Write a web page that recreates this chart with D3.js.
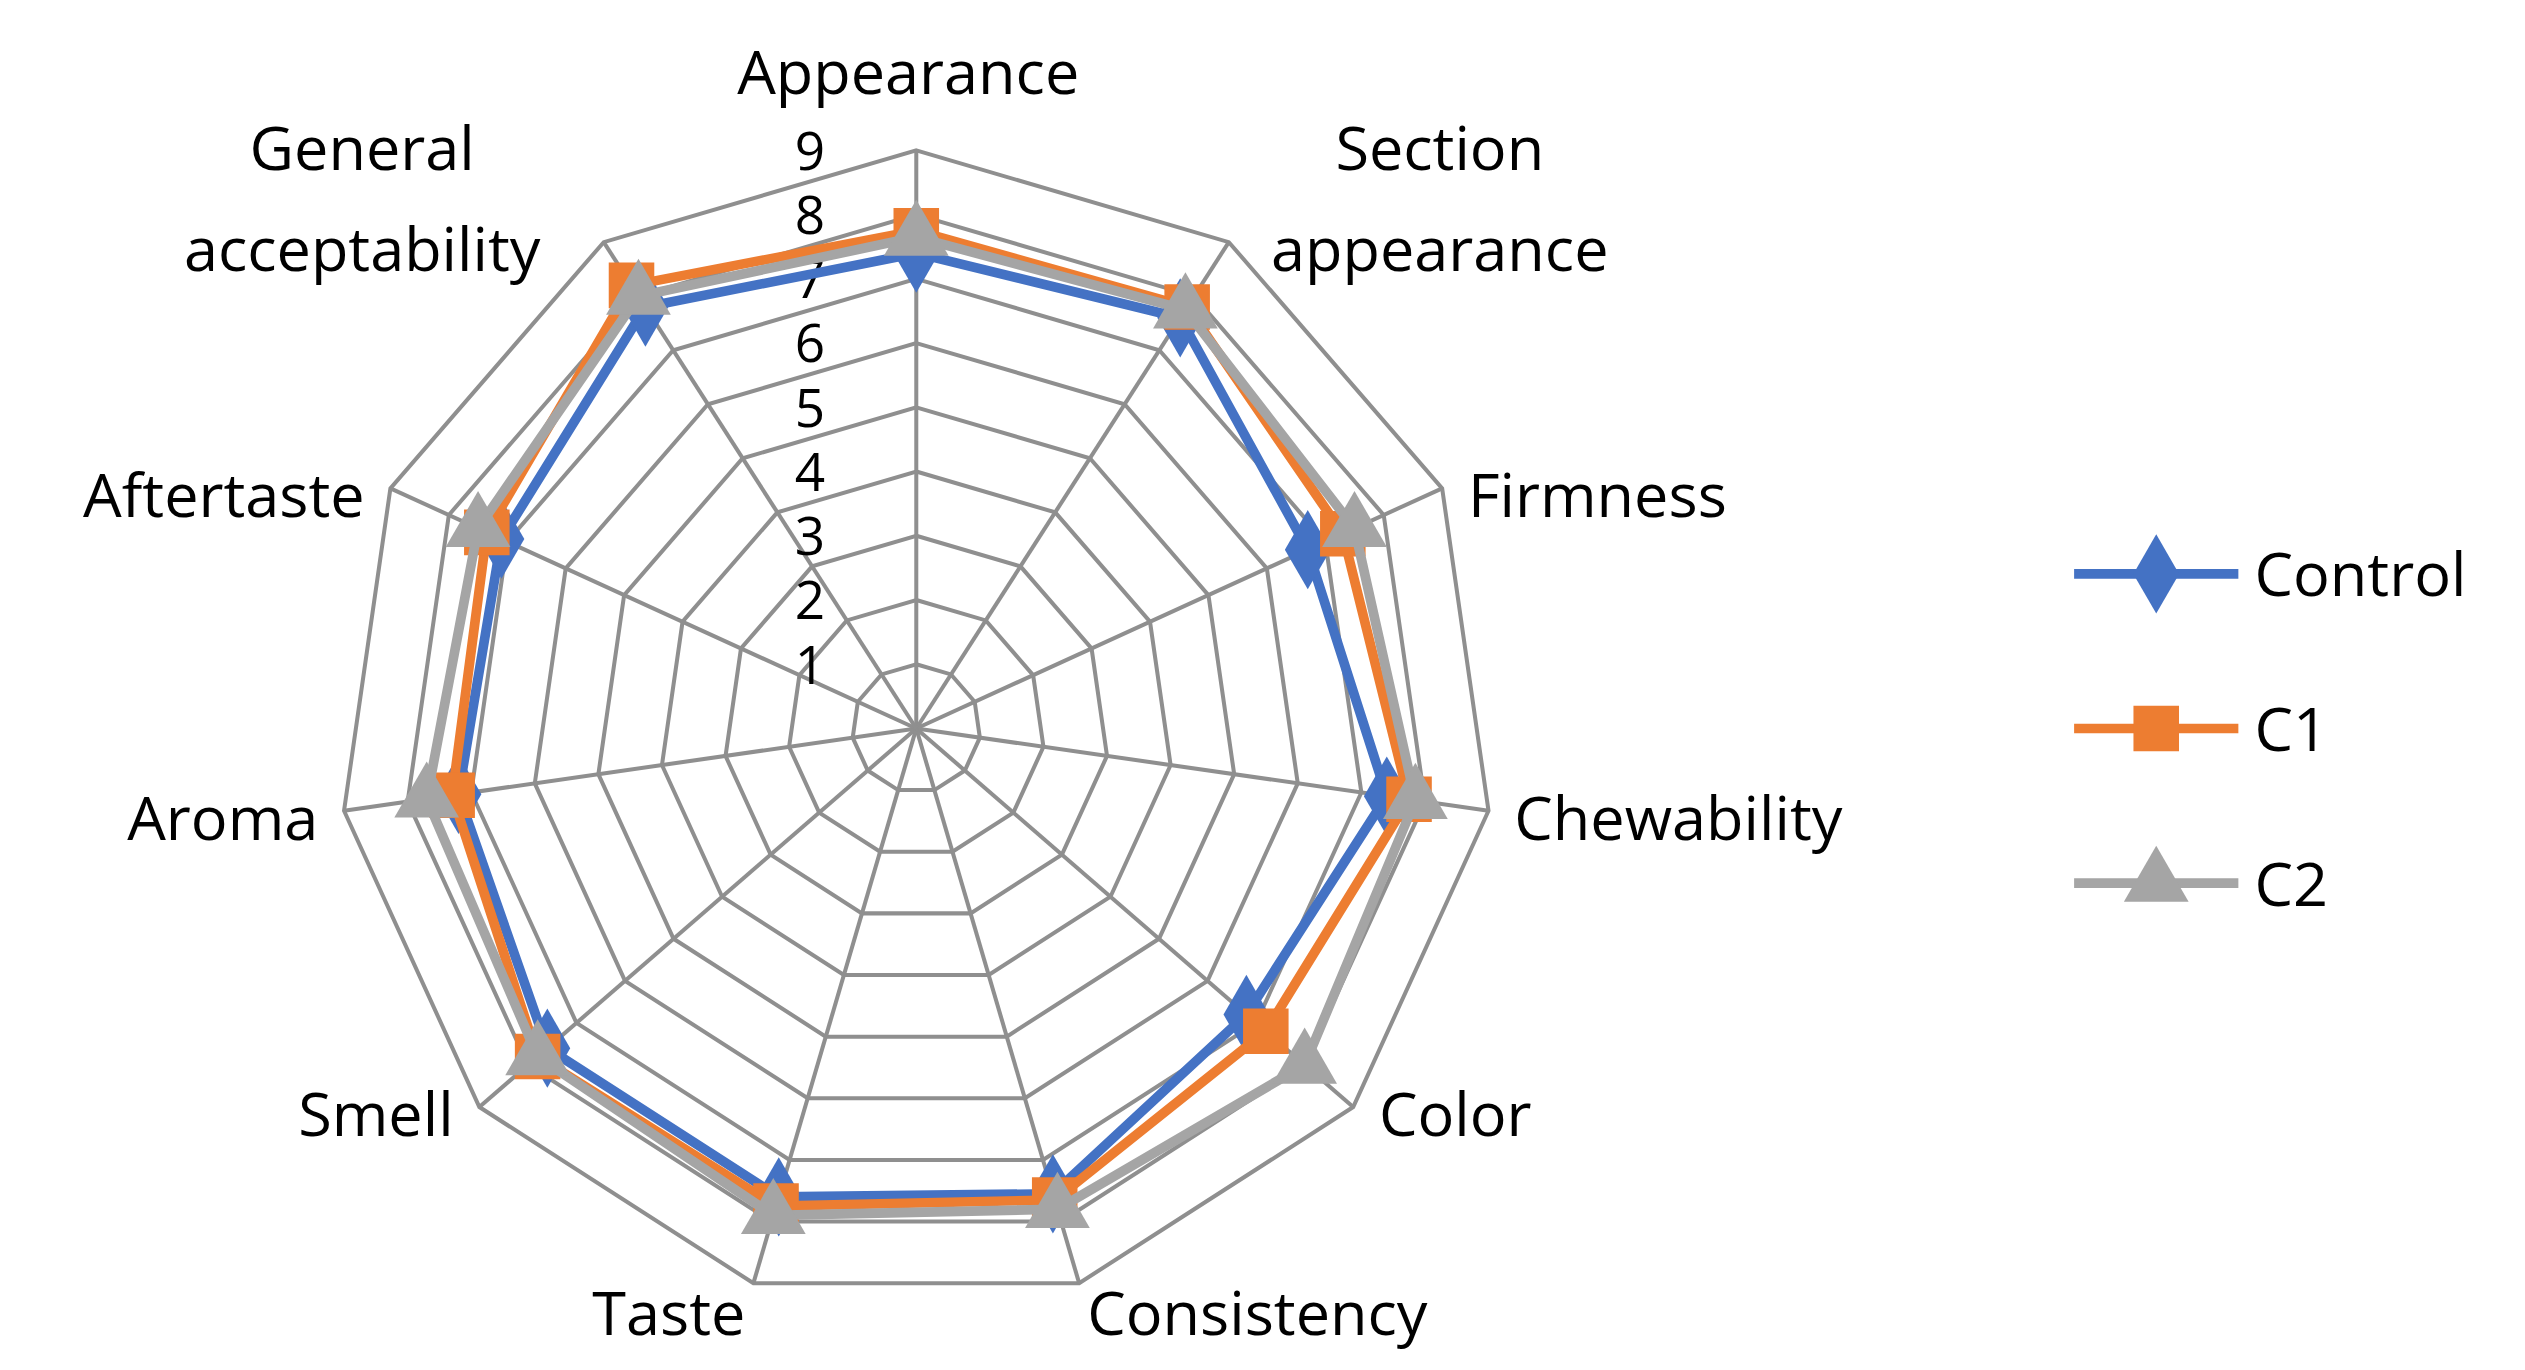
<!DOCTYPE html>
<html><head><meta charset="utf-8">
<script src="https://cdn.jsdelivr.net/npm/d3@7"></script>
<style>body{margin:0;background:#fff}</style>
</head><body>
<svg id="vis" width="2525" height="1370" viewBox="0 0 1568 850"></svg>
<script>
const categories = [["Appearance"], ["Section", "appearance"], ["Firmness"], ["Chewability"], ["Color"],
    ["Consistency"], ["Taste"], ["Smell"], ["Aroma"], ["Aftertaste"], ["General", "acceptability"]];
const control = [7.4, 7.6, 6.7, 7.4, 6.8, 7.55, 7.6, 7.6, 7.2, 7.1, 7.8];
const c1 = [7.75, 7.8, 7.3, 7.75, 7.2, 7.65, 7.75, 7.8, 7.3, 7.35, 8.2];
const c2 = [7.65, 7.75, 7.5, 7.85, 8.0, 7.8, 7.9, 7.8, 7.7, 7.5, 8.0];
const ticks = [1, 2, 3, 4, 5, 6, 7, 8, 9];

const series = [
    {name: "Control", values: control, color: "#4472c4", symbol: d3.symbolDiamond, size: 700},
    {name: "C1", values: c1, color: "#ed7d31", symbol: d3.symbolSquare, size: 800},
    {name: "C2", values: c2, color: "#a5a5a5", symbol: d3.symbolTriangle, size: 700}
];

const cx = 569, cy = 452;
const svg = d3.select("#vis");
const r = d3.scaleLinear().domain([0, 9]).range([0, 359]);
const n = categories.length;
const ang = i => i * 2 * Math.PI / n;
const pt = (i, v) => [cx + r(v) * Math.sin(ang(i)), cy - r(v) * Math.cos(ang(i))];
const font = "'Open Sans', 'Noto Sans', sans-serif";

// grid
ticks.forEach(t => {
    svg.append("polygon")
        .attr("points", d3.range(n).map(i => pt(i, t).join(",")).join(" "))
        .attr("fill", "none").attr("stroke", "#8f8f8f").attr("stroke-width", 2.5);
});
d3.range(n).forEach(i => {
    const p = pt(i, 9);
    svg.append("line").attr("x1", cx).attr("y1", cy).attr("x2", p[0]).attr("y2", p[1])
        .attr("stroke", "#8f8f8f").attr("stroke-width", 2.5);
});

// tick labels
svg.selectAll(".tick").data(ticks).enter().append("text")
    .attr("x", cx - 66).attr("y", d => cy - r(d) + 12)
    .attr("text-anchor", "middle").attr("font-family", font).attr("font-size", 33)
    .text(d => d);

// category labels, placed relative to the outer vertex
categories.forEach((lines, i) => {
    const [vx, vy] = pt(i, 9);
    const s = Math.sin(ang(i)), c = Math.cos(ang(i));
    let x, y, anchor;
    if (lines.length > 1) {
        anchor = "middle"; x = vx + (s > 0 ? 131 : -150); y = vy - 45;
    } else if (c > 0.95) {
        anchor = "middle"; x = vx - 5; y = vy - 35;
    } else if (c < -0.9) {
        anchor = s > 0 ? "start" : "end"; x = vx + (s > 0 ? 5 : -5); y = vy + 32;
    } else {
        anchor = s > 0 ? "start" : "end"; x = vx + (s > 0 ? 16 : -16); y = vy + 18;
    }
    const t = svg.append("text").attr("font-family", font).attr("font-size", 38)
        .attr("text-anchor", anchor);
    lines.forEach((l, k) => t.append("tspan").attr("x", x).attr("y", y + k * 63).text(l));
});

// series
const line = d3.line().curve(d3.curveLinearClosed);
series.forEach(sr => {
    const pts = sr.values.map((v, i) => pt(i, v));
    svg.append("path").attr("d", line(pts)).attr("fill", "none")
        .attr("stroke", sr.color).attr("stroke-width", 6).attr("stroke-linejoin", "round");
    svg.selectAll(null).data(pts).enter().append("path")
        .attr("d", d3.symbol().type(sr.symbol).size(sr.size))
        .attr("transform", d => `translate(${d[0]},${d[1]})`)
        .attr("fill", sr.color);
});

// legend
const ly = d3.scalePoint().domain(series.map(d => d.name)).range([356, 548]);
series.forEach(sr => {
    const y = ly(sr.name);
    svg.append("line").attr("x1", 1288).attr("x2", 1390).attr("y1", y).attr("y2", y)
        .attr("stroke", sr.color).attr("stroke-width", 6);
    svg.append("path").attr("d", d3.symbol().type(sr.symbol).size(sr.size))
        .attr("transform", `translate(1339,${y})`).attr("fill", sr.color);
    svg.append("text").attr("x", 1400).attr("y", y + 14).attr("font-family", font)
        .attr("font-size", 38).text(sr.name);
});
</script>
</body></html>
